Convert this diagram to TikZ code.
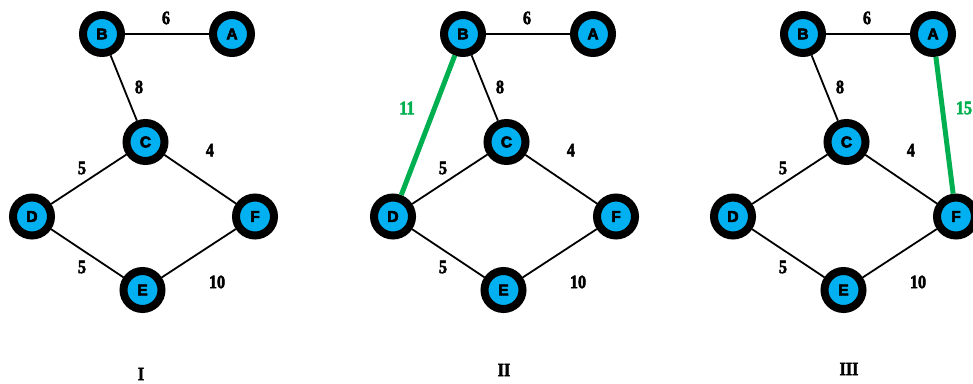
\documentclass[tikz,border=0pt]{standalone}
\usepackage{fontspec}
\setmainfont{Liberation Serif}
\newfontfamily\nodefont{Liberation Sans}
\definecolor{nodecyan}{HTML}{00B0F0}
\definecolor{mstgreen}{HTML}{00B050}
\newcommand\heavytext[2]{\special{pdf:literal direct 2 Tr #1 w}#2\special{pdf:literal direct 0 Tr 1 w}}
\begin{document}
\begin{tikzpicture}[x=1pt,y=-1pt,
  vtx/.style={circle,draw=black,fill=nodecyan,line width=8pt,minimum size=38pt,inner sep=0pt,
    font=\nodefont\bfseries\fontsize{15.5}{15.5}\selectfont},
  edge/.style={line width=1.8pt,black},
  hedge/.style={line width=5pt,mstgreen},
  wlab/.style={font=\bfseries\fontsize{19}{19}\selectfont,xscale=0.85,inner sep=0pt},
  glab/.style={wlab,text=mstgreen},
  title/.style={font=\bfseries\fontsize{19}{19}\selectfont,xscale=0.85,inner sep=0pt}]
\useasboundingbox (0,0) rectangle (973,383);
\foreach \g/\o in {1/0,2/361,3/701}{
  \begin{scope}[xshift=\o pt]
  \node[vtx] (B\g) at (102,34) {\heavytext{0.6}{B}};
  \node[vtx] (A\g) at (232,34) {\heavytext{0.6}{A}};
  \node[vtx] (C\g) at (145.5,142) {\heavytext{0.6}{C}};
  \node[vtx] (D\g) at (32,216.5) {\heavytext{0.6}{D}};
  \node[vtx] (F\g) at (255,216.5) {\heavytext{0.6}{F}};
  \node[vtx] (E\g) at (142.5,290) {\heavytext{0.6}{E}};
  \node[wlab] (w6\g) at (166,18) {\heavytext{0.5}{6}};
  \node[wlab] (w8\g) at (139,87) {\heavytext{0.5}{8}};
  \node[wlab] (w4\g) at (210,150) {\heavytext{0.5}{4}};
  \node[wlab] (w5a\g) at (82,168) {\heavytext{0.5}{5}};
  \node[wlab] (w5b\g) at (82,267) {\heavytext{0.5}{5}};
  \node[wlab] (w10\g) at (217,282) {\heavytext{0.5}{10}};
  \end{scope}
  \draw[edge] (B\g) -- (A\g);
  \draw[edge] (B\g) -- (C\g);
  \draw[edge] (C\g) -- (D\g);
  \draw[edge] (C\g) -- (F\g);
  \draw[edge] (D\g) -- (E\g);
  \draw[edge] (E\g) -- (F\g);
}
\draw[hedge] (B2) -- (D2);
\node[glab] (w11) at (407,108) {\heavytext{0.5}{11}};
\draw[hedge] (A3) -- (F3);
\node[glab] (w15) at (964,108) {\heavytext{0.5}{15}};
\node[title] (t1) at (141,374) {\heavytext{0.5}{I}};
\node[title] (t2) at (504,370) {\heavytext{0.5}{II}};
\node[title] (t3) at (849,369) {\heavytext{0.5}{III}};
\end{tikzpicture}
\end{document}
